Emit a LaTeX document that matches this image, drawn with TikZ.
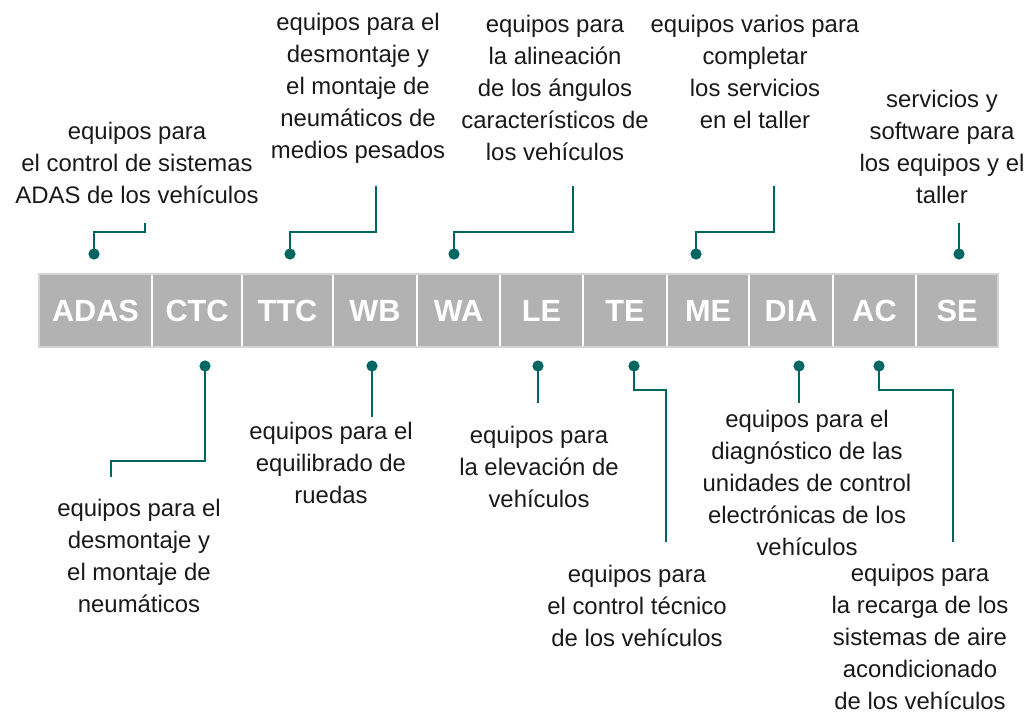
\documentclass[tikz,border=0pt]{standalone}
\usepackage{fontspec}
\setmainfont{Liberation Sans}
\definecolor{linkteal}{RGB}{0,102,97}
\definecolor{cellgray}{RGB}{178,178,178}
\definecolor{cellrim}{RGB}{212,212,212}

\begin{document}
\begin{tikzpicture}[x=0.025cm,y=-0.025cm,
		cell/.style={rectangle,fill=cellgray,draw=white,line width=1.4pt,inner sep=0pt,outer sep=0pt,minimum height=1.825cm,text=white,font=\fontsize{21.8}{26}\selectfont\bfseries},
		leaderdot/.style={circle,fill=linkteal,inner sep=0pt,minimum size=0.28cm},
		leader/.style={draw=linkteal,line width=1.8pt},
		desc/.style={align=center,inner sep=0pt,text=black!90,font=\fontsize{17}{22.8}\selectfont}]
		\useasboundingbox (0,0) rectangle (1029,715);
%		\draw[help lines,step=50] (0,0) grid (1029,715);
		% the bar of abbreviations
		\foreach \name/\l/\r in {ADAS/39/152,CTC/152/242,TTC/242/333,WB/333/417,WA/417/500,LE/500/583,TE/583/667,ME/667/749,DIA/749/833,AC/833/916,SE/916/998}
			\path ({(\l+\r)/2},310.5) node(\name) [cell,minimum width={(\r-\l)*0.025cm}] {\name};
		\draw[cellrim,line width=0.8pt] (ADAS.north west) rectangle (SE.south east);

		% dots on the bar
		\path (94,254) node(dADAS) [leaderdot] {};
		\path (290,254) node(dTTC) [leaderdot] {};
		\path (454,254) node(dWA) [leaderdot] {};
		\path (696,254) node(dME) [leaderdot] {};
		\path (959,254) node(dSE) [leaderdot] {};
		\path (205,366) node(dCTC) [leaderdot] {};
		\path (372,366) node(dWB) [leaderdot] {};
		\path (538,366) node(dLE) [leaderdot] {};
		\path (634,366) node(dTE) [leaderdot] {};
		\path (799,366) node(dDIA) [leaderdot] {};
		\path (879,366) node(dAC) [leaderdot] {};

		% free ends of the leaders
		\path (145,223) coordinate (eADAS);
		\path (376,186) coordinate (eTTC);
		\path (573,186) coordinate (eWA);
		\path (774,186) coordinate (eME);
		\path (959,223) coordinate (eSE);
		\path (111,477) coordinate (eCTC);
		\path (372,417) coordinate (eWB);
		\path (538,403) coordinate (eLE);
		\path (666,542) coordinate (eTE);
		\path (799,403) coordinate (eDIA);
		\path (953,542) coordinate (eAC);

		\draw[leader] (dADAS.center) -- ++(0,-22) -| (eADAS);
		\draw[leader] (dTTC.center) -- ++(0,-22) -| (eTTC);
		\draw[leader] (dWA.center) -- ++(0,-22) -| (eWA);
		\draw[leader] (dME.center) -- ++(0,-22) -| (eME);
		\draw[leader] (dSE.center) -- (eSE);
		\draw[leader] (dCTC.center) -- ++(0,95) -| (eCTC);
		\draw[leader] (dWB.center) -- (eWB);
		\draw[leader] (dLE.center) -- (eLE);
		\draw[leader] (dTE.center) -- ++(0,24) -| (eTE);
		\draw[leader] (dDIA.center) -- (eDIA);
		\draw[leader] (dAC.center) -- ++(0,24) -| (eAC);

		% descriptions
		\path (137,163) node(tADAS) [desc] {equipos para\\el control de sistemas\\ADAS de los vehículos};
		\path (358,88) node(tTTC) [desc] {equipos para el\\desmontaje y\\el montaje de\\neumáticos de\\medios pesados};
		\path (555,88) node(tWA) [desc] {equipos para\\la alineación\\de los ángulos\\característicos de\\los vehículos};
		\path (755,72) node(tME) [desc] {equipos varios para\\completar\\los servicios\\en el taller};
		\path (942,147) node(tSE) [desc] {servicios y\\software para\\los equipos y el\\taller};
		\path (139,556) node(tCTC) [desc] {equipos para el\\desmontaje y\\el montaje de\\neumáticos};
		\path (331,463) node(tWB) [desc] {equipos para el\\equilibrado de\\ruedas};
		\path (539,467) node(tLE) [desc] {equipos para\\la elevación de\\vehículos};
		\path (637,606) node(tTE) [desc] {equipos para\\el control técnico\\de los vehículos};
		\path (807,483) node(tDIA) [desc] {equipos para el\\diagnóstico de las\\unidades de control\\electrónicas de los\\vehículos};
		\path (920,637) node(tAC) [desc] {equipos para\\la recarga de los\\sistemas de aire\\acondicionado\\de los vehículos};
	\end{tikzpicture}
\end{document}
